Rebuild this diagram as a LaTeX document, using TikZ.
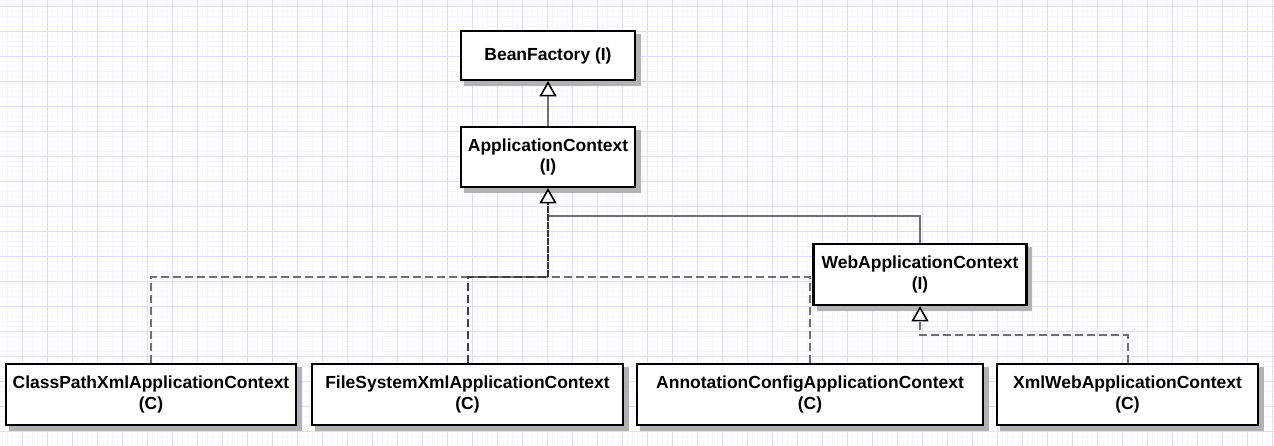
\documentclass[tikz,border=0pt]{standalone}
\usepackage{fontspec}
\setmainfont{Liberation Sans}
\usetikzlibrary{arrows.meta,backgrounds}
\definecolor{gridc}{RGB}{224,224,244}
\definecolor{gridf}{RGB}{247,247,253}
\definecolor{linec}{RGB}{112,112,112}
\definecolor{shadc}{RGB}{178,178,178}
\begin{document}
\begin{tikzpicture}[x=0.75pt,y=-0.75pt,
  box/.style={draw=black, line width=1.6pt, fill=white, align=center,
    font=\fontsize{13.1}{15.5}\selectfont\bfseries, inner sep=0pt},
  bsize/.style 2 args={minimum width=#1*0.75pt, minimum height=#2*0.75pt},
  conn/.style={draw=linec, line width=1.5pt},
  dconn/.style={conn, dash pattern=on 6pt off 3pt},
  shad/.style={fill=shadc},
  inh/.style={-{Triangle[open, length=11.5pt, width=12.75pt, color=black, fill=white, line width=1.2pt]}}]
\useasboundingbox (0,0) rectangle (1274,446);

\node[box, bsize={174}{49}] (bf) at (548,55.5) {BeanFactory (I)};
\node[box, bsize={174}{60}] (ac) at (548,157) {ApplicationContext\\(I)};
\node[box, bsize={213}{61}] (web) at (920,274.5) {WebApplicationContext\\(I)};
\node[box, bsize={290}{61}] (cp) at (151,394.5) {ClassPathXmlApplicationContext\\(C)};
\node[box, bsize={311}{61}] (fs) at (467.5,394.5) {FileSystemXmlApplicationContext\\(C)};
\node[box, bsize={346}{61}] (an) at (810,394.5) {AnnotationConfigApplicationContext\\(C)};
\node[box, bsize={261}{61}] (xw) at (1127.5,394.5) {XmlWebApplicationContext\\(C)};

\begin{scope}[on background layer]
\fill[white] (0,0) rectangle (1274,446);
\foreach \x in {2,7,...,1272} \draw[gridf, line width=0.5pt] (\x,0) -- (\x,446);
\foreach \y in {1,6,...,446} \draw[gridf, line width=0.5pt] (0,\y) -- (1274,\y);
\foreach \x in {22,47,...,1272} \draw[gridc, line width=0.75pt] (\x,0) -- (\x,446);
\foreach \y in {6,31,...,446} \draw[gridc, line width=0.75pt] (0,\y) -- (1274,\y);
\foreach \n in {bf,ac,web,cp,fs,an,xw}
  \fill[shad] ([shift={(4.5,4.5)}]\n.south west) rectangle ([shift={(4.5,4.5)}]\n.north east);
\end{scope}

\coordinate (bus) at (548,277);
\coordinate (wbus) at (548,216);
\coordinate (xbus) at (920,335);

\draw[conn, inh] (ac.north) -- (bf.south);
\draw[dconn] (cp.north) |- (bus);
\draw[dconn] (an.north) |- (bus);
\draw[dconn, draw=black!75] (fs.north) |- (bus);
\draw[conn] (web.north) |- (wbus);
\draw[conn, draw=black!80, dash pattern=on 5pt off 1pt, inh] (bus) -- (ac.south);
\draw[dconn, inh] (xw.north) |- (xbus) -- (web.south);
\end{tikzpicture}
\end{document}
